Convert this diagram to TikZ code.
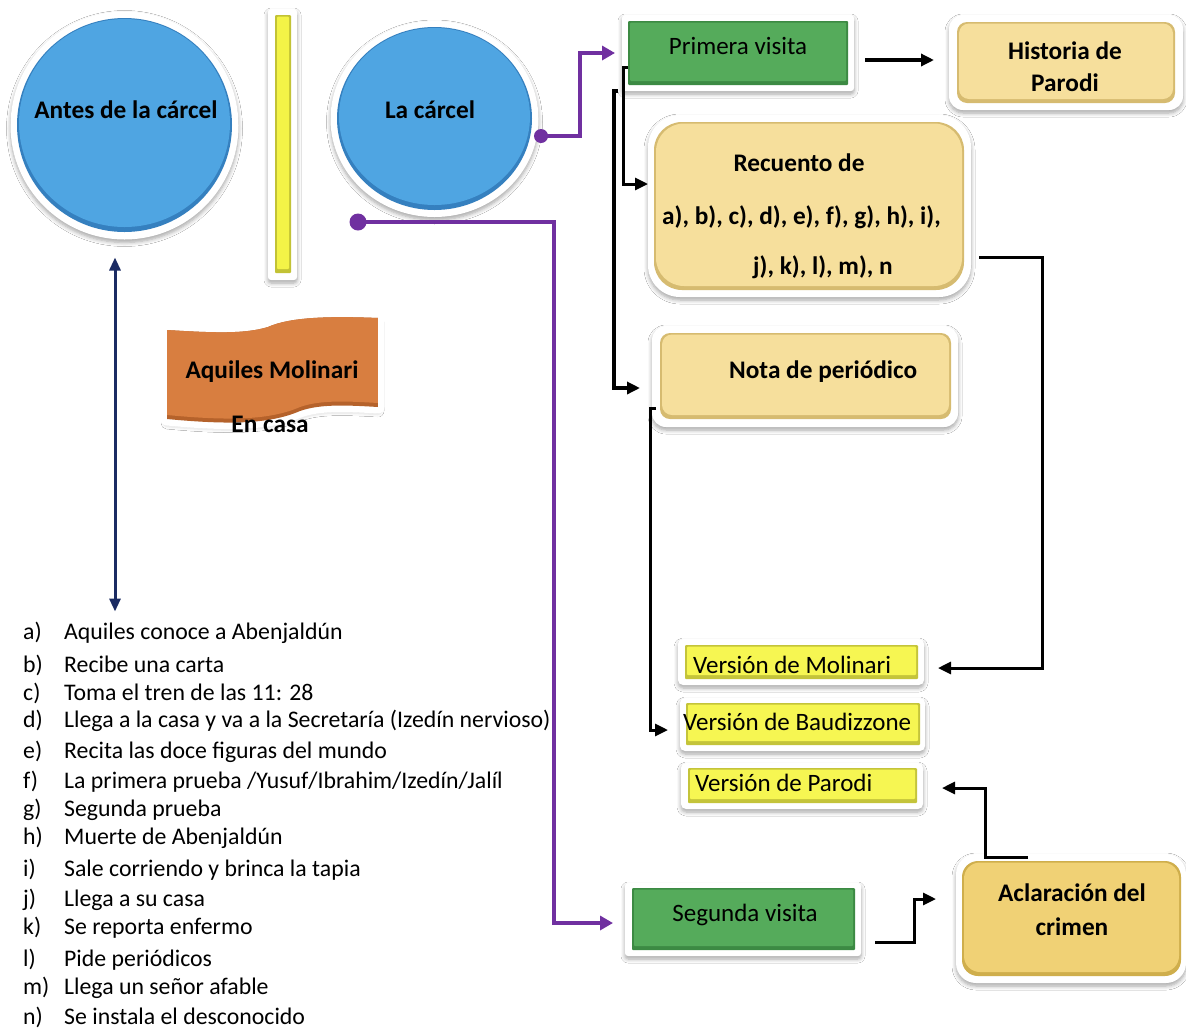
\documentclass[tikz,border=0pt]{standalone}
\usepackage{fontspec}
\setmainfont{Carlito}
\usetikzlibrary{arrows.meta,shapes.geometric,shadows.blur,calc}
\definecolor{blueM}{HTML}{4FA5E2}
\definecolor{blueD}{HTML}{3580BF}
\definecolor{greenM}{HTML}{55AB5B}
\definecolor{greenD}{HTML}{3C8A43}
\definecolor{tanM}{HTML}{F6DF9C}
\definecolor{tanD}{HTML}{D6BB70}
\definecolor{tanBM}{HTML}{F0D175}
\definecolor{tanBD}{HTML}{CFAE4C}
\definecolor{yelM}{HTML}{F6F652}
\definecolor{yelD}{HTML}{C4C43A}
\definecolor{barM}{HTML}{F3F347}
\definecolor{barD}{HTML}{C2C235}
\definecolor{orangeM}{HTML}{D87E40}
\definecolor{orangeD}{HTML}{B5622B}
\definecolor{purpleC}{HTML}{7030A0}
\definecolor{navyC}{HTML}{1B2B63}
\begin{document}
\begin{tikzpicture}[x=1pt,y=-1pt,
  ring/.style={fill=white, inner sep=0pt, outer sep=0pt,
    blur shadow={shadow xshift=0pt, shadow yshift=-3pt, shadow blur radius=4pt, shadow blur steps=6, shadow opacity=35}},
  bx/.style n args={3}{fill=#2, inner sep=0pt, outer sep=0pt, rounded corners=#3,
    path picture={\fill[#1, rounded corners=#3] ([shift={(2pt,-1.5pt)}]path picture bounding box.north west) rectangle ([shift={(-2pt,4pt)}]path picture bounding box.south east);}},
  el/.style 2 args={ellipse, fill=#2, inner sep=0pt, outer sep=0pt,
    path picture={\fill[#1] let \p1=(path picture bounding box.north east), \p2=(path picture bounding box.south west) in
      ($(path picture bounding box.center)+(0pt,2pt)$) ellipse [x radius={(\x1-\x2)/2-2pt}, y radius={(\y1-\y2)/2-3pt}];}},
  lbl/.style={font=\fontsize{25.3}{30}\selectfont\bfseries, inner sep=0pt},
  reg/.style={font=\fontsize{25}{30}\selectfont, inner sep=0pt},
  lst/.style={font=\fontsize{23.8}{29}\selectfont, inner sep=0pt, anchor=west},
  blk/.style={draw=black, line width=3pt, -{Triangle[length=13pt,width=12pt]}},
  pur/.style={draw=purpleC, line width=4pt, -{Triangle[length=13pt,width=14pt]}},
  nav/.style={draw=navyC, line width=3pt, {Triangle[length=13pt,width=11pt]}-{Triangle[length=13pt,width=11pt]}},
  wavep/.style={insert path={(167,330) .. controls (215,333) and (245,334) .. (268,327) .. controls (290,317) and (330,316) .. (378,318) -- (378,407) .. controls (345,405) and (320,404) .. (300,411) .. controls (270,424) and (230,425) .. (167,419) -- cycle}}
]
\useasboundingbox (0,0) rectangle (1186,1029);
\fill[white] (0,0) rectangle (1186,1029);

% circles
\node[ring, ellipse, minimum width=228pt, minimum height=228pt] (anteso) at (124.5,125.5) {};
\node[el={blueM}{blueD}, minimum width=215pt, minimum height=214pt] (antes) at (124.5,125) {};
\node[lbl] (antest) at (126,110) {Antes de la cárcel};

\node[ring, ellipse, minimum width=208pt, minimum height=196pt] (lco) at (434.5,119) {};
\node[el={blueM}{blueD}, minimum width=195pt, minimum height=183pt] (lc) at (434.5,118.5) {};
\node[lbl] (lct) at (430,110) {La cárcel};

% yellow bar
\node[ring, rounded corners=3pt, minimum width=29pt, minimum height=271pt] (baro) at (282.5,144.5) {};
\node[bx={barM}{barD}{1pt}, minimum width=16pt, minimum height=258pt] (bar) at (283,144) {};

% wave
\path[fill=white, draw=white, line width=13pt, line join=round,
  blur shadow={shadow xshift=0pt, shadow yshift=-4pt, shadow blur radius=6pt, shadow opacity=35}, wavep];
\begin{scope}
  \clip[wavep];
  \fill[orangeD, wavep];
  \fill[orangeM, yshift=4pt, wavep];
\end{scope}
\node[lbl] (amt) at (272,372) {Aquiles Molinari};
\node[lbl] (ect) at (270,424) {En casa};

% Primera visita
\node[ring, rounded corners=3pt, minimum width=232pt, minimum height=76pt] (pvo) at (738,53) {};
\node[bx={greenM}{greenD}{1pt}, minimum width=220pt, minimum height=64pt] (pv) at (738,53) {};
\node[reg] (pvt) at (738,46) {Primera visita};

% Historia de Parodi
\node[ring, rounded corners=14pt, minimum width=234pt, minimum height=95pt] (histo) at (1066,62.5) {};
\node[bx={tanM}{tanD}{10pt}, minimum width=218pt, minimum height=81pt] (hist) at (1066,62.5) {};
\node[lbl] (histt1) at (1065,51) {Historia de};
\node[lbl] (histt2) at (1065,83) {Parodi};

% Recuento
\node[ring, rounded corners=32pt, minimum width=323pt, minimum height=182pt] (rco) at (809.5,206) {};
\node[bx={tanM}{tanD}{28pt}, minimum width=310pt, minimum height=168pt] (rc) at (809,206) {};
\node[lbl] (rct1) at (799,163) {Recuento de};
\node[lbl, anchor=west] (rct2) at (662,217) {a), b), c), d), e), f), g), h), i),};
\node[lbl, anchor=west] (rct3) at (753,267) {j), k), l), m), n};

% Nota de periodico
\node[ring, rounded corners=14pt, minimum width=306pt, minimum height=101pt] (ntao) at (805,376.5) {};
\node[bx={tanM}{tanD}{10pt}, minimum width=291pt, minimum height=86pt] (nta) at (805.5,376) {};
\node[lbl, anchor=west] (ntat) at (729,372) {Nota de periódico};

% Versions
\node[ring, rounded corners=5pt, minimum width=246pt, minimum height=46pt] (mlo) at (801,662) {};
\node[bx={yelM}{yelD}{1pt}, minimum width=233pt, minimum height=34pt] (ml) at (801.5,662) {};
\node[reg, anchor=west] (mlt) at (693,665) {Versión de Molinari};

\node[ring, rounded corners=5pt, minimum width=245pt, minimum height=53pt] (bdo) at (802.5,724.5) {};
\node[bx={yelM}{yelD}{1pt}, minimum width=234pt, minimum height=42pt] (bd) at (803,724) {};
\node[reg, anchor=west] (bdt) at (683,722) {Versión de Baudizzone};

\node[ring, rounded corners=5pt, minimum width=242pt, minimum height=46pt] (pro) at (802,786) {};
\node[bx={yelM}{yelD}{1pt}, minimum width=229pt, minimum height=35pt] (pr) at (802.5,785.5) {};
\node[reg, anchor=west] (prt) at (695,783) {Versión de Parodi};

% Segunda visita
\node[ring, rounded corners=3pt, minimum width=236pt, minimum height=73pt] (sgo) at (743,919.5) {};
\node[bx={greenM}{greenD}{1pt}, minimum width=223pt, minimum height=62pt] (sg) at (743.5,919) {};
\node[reg] (sgt) at (745,915) {Segunda visita};

% Aclaracion
\node[ring, rounded corners=20pt, minimum width=230pt, minimum height=129pt] (aco) at (1071,918.5) {};
\node[bx={tanBM}{tanBD}{16pt}, minimum width=219pt, minimum height=115pt] (ac) at (1071.5,918.5) {};
\node[lbl] (act1) at (1072,893) {Aclaración del};
\node[lbl] (act2) at (1072,927) {crimen};

% list
\node[lst] (l1) at (23,633) {\makebox[41pt][l]{a)}Aquiles conoce a Abenjaldún};
\node[lst] (l2) at (23,665) {\makebox[41pt][l]{b)}Recibe una carta};
\node[lst] (l3) at (23,693) {\makebox[41pt][l]{c)}Toma el tren de las 11: 28};
\node[lst] (l4) at (23,721) {\makebox[41pt][l]{d)}Llega a la casa y va a la Secretaría (Izedín nervioso)};
\node[lst] (l5) at (23,752) {\makebox[41pt][l]{e)}Recita las doce figuras del mundo};
\node[lst] (l6) at (23,782) {\makebox[41pt][l]{f)}La primera prueba /Yusuf/Ibrahim/Izedín/Jalíl};
\node[lst] (l7) at (23,810) {\makebox[41pt][l]{g)}Segunda prueba};
\node[lst] (l8) at (23,838) {\makebox[41pt][l]{h)}Muerte de Abenjaldún};
\node[lst] (l9) at (23,870) {\makebox[41pt][l]{i)}Sale corriendo y brinca la tapia};
\node[lst] (l10) at (23,900) {\makebox[41pt][l]{j)}Llega a su casa};
\node[lst] (l11) at (23,928) {\makebox[41pt][l]{k)}Se reporta enfermo};
\node[lst] (l12) at (23,960) {\makebox[41pt][l]{l)}Pide periódicos};
\node[lst] (l13) at (23,988) {\makebox[41pt][l]{m)}Llega un señor afable};
\node[lst] (l14) at (23,1017) {\makebox[41pt][l]{n)}Se instala el desconocido};

% connectors
\coordinate (p1s) at ([shift={(2.5pt,-17pt)}]lco.east);
\coordinate (p2s) at ([shift={(-76.5pt,-5pt)}]lco.south);
\draw[pur] (p1s) -- ++(39pt,0) |- ([xshift=-7pt]pvo.west);
\fill[purpleC] (p1s) circle (7pt);
\draw[pur] (p2s) -- ++(196pt,0) |- ([shift={(-12pt,-3.5pt)}]sgo.west);
\fill[purpleC] (p2s) circle (8.5pt);

\draw[blk, line width=4pt] ([shift={(11pt,-7pt)}]pvo.east) -- ([shift={(-15pt,2.5pt)}]histo.west);
\draw[blk] ([yshift=-14pt]pv.west) -- ++(-5pt,0) |- ([yshift=22pt]rco.west);
\draw[blk, line width=4pt] ([xshift=-4pt]pvo.south west) -- ++(-4pt,0) |- ([shift={(-12pt,-11.5pt)}]ntao.west);
\draw[blk] ([shift={(4pt,-31.5pt)}]ntao.west) -- ++(-6pt,0) |- ([shift={(-12pt,-5.5pt)}]bdo.west);
\draw[blk] ([shift={(8pt,-51pt)}]rco.east) -- ++(63pt,0) |- ([shift={(14pt,-6pt)}]mlo.east);
\draw[blk] ([shift={(-43pt,-3pt)}]aco.north) -- ++(-43pt,0) |- ([shift={(19pt,-2pt)}]pro.east);
\draw[blk] ([shift={(14pt,-22.5pt)}]sgo.east) -- ++(39pt,0) |- ([shift={(-20pt,19.5pt)}]aco.west);

\draw[nav] ([shift={(-9.5pt,-18pt)}]anteso.south) -- ++(0,-354pt);
\end{tikzpicture}
\end{document}
